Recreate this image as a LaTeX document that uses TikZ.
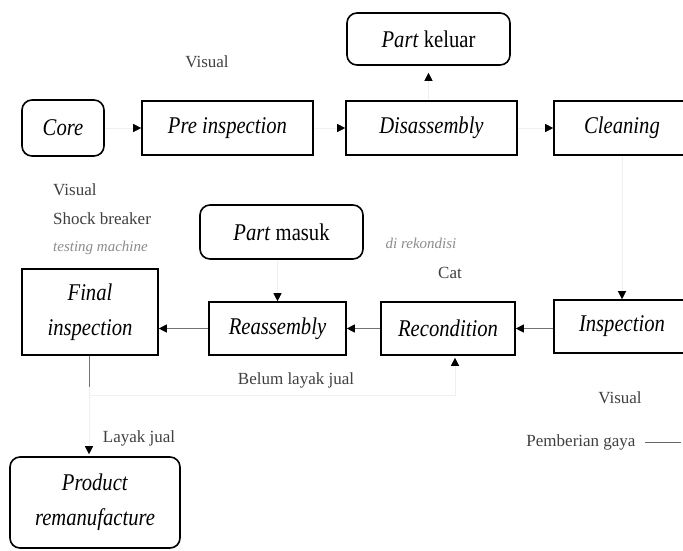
\documentclass[tikz,border=0pt]{standalone}
\usepackage{fontspec}
\setmainfont{Liberation Serif}
\newfontfamily\boxfont[FakeStretch=0.86]{Liberation Serif}
\usetikzlibrary{arrows.meta}
\begin{document}
\begin{tikzpicture}[x=1pt,y=-1pt]
\tikzset{
  box/.style={draw=black, line width=1.6pt, inner sep=0pt, align=center,
    font=\boxfont\fontsize{24}{35}\selectfont},
  rbox/.style={box, rounded corners=10pt},
  lab/.style={font=\fontsize{17}{20}\selectfont, text=black!75, inner sep=0pt},
  faintlab/.style={font=\fontsize{15}{18}\selectfont\itshape, text=black!45, inner sep=0pt},
  arr/.style={-{Triangle[length=8pt,width=8pt,color=black]}, line width=0.7pt, draw=black!55},
  farr/.style={-{Triangle[length=8pt,width=8pt,color=black]}, line width=0.6pt, draw=black!6},
  gline/.style={line width=0.7pt, draw=black!55}
}
\useasboundingbox[fill=white] (0,0) rectangle (683,550);

% top row
\node[rbox, minimum width=163pt, minimum height=52pt] (partk) at (428.5,39) {\textit{Part} keluar};
\node[rbox, minimum width=82pt, minimum height=56pt] (core) at (63,128) {\textit{Core}};
\node[box, minimum width=171pt, minimum height=54pt] (pre) at (227.5,128) {\textit{Pre inspection}};
\node[box, minimum width=171pt, minimum height=54pt] (dis) at (431.5,128) {\textit{Disassembly}};
\node[box, minimum width=136pt, minimum height=54pt] (clean) at (622,128) {\textit{Cleaning}};

% second row
\node[rbox, minimum width=163pt, minimum height=54pt] (partm) at (281.5,232) {\textit{Part} masuk};
\node[box, minimum width=136pt, minimum height=86pt] (final) at (90,312) {\textit{Final}\\\textit{inspection}};
\node[box, minimum width=137pt, minimum height=53pt] (reas) at (277.5,328.5) {\textit{Reassembly}};
\node[box, minimum width=134pt, minimum height=53pt] (recon) at (448,328.5) {\textit{Recondition}};
\node[box, minimum width=136pt, minimum height=53pt] (insp) at (622,326.5) {\textit{Inspection}};

% bottom
\node[rbox, minimum width=170pt, minimum height=91pt] (prod) at (95,502.5) {\textit{Product}\\\textit{remanufacture}};

% labels
\node[lab] (v1) at (207,62) {Visual};
\node[lab, anchor=west] (v2) at (53,190) {Visual};
\node[lab, anchor=west] (sb) at (53,219) {Shock breaker};
\node[faintlab, anchor=west] (tm) at (53,248) {testing machine};
\node[faintlab] (dr) at (421,243) {di rekondisi};
\node[lab] (cat) at (450,273) {Cat};
\node[lab] (bl) at (296,380) {Belum layak jual};
\node[lab] (v3) at (620,398) {Visual};
\node[lab] (lj) at (139,438) {Layak jual};
\node[lab] (pg) at (581,442) {Pemberian gaya};
\coordinate (pge) at (681,442);
\draw[black!60, line width=0.8pt] ([xshift=9pt]pg.east) -- (pge);

% connectors top row
\draw[farr] (core) -- (pre);
\draw[farr] (pre) -- (dis);
\draw[farr] (dis) -- (clean);
\draw[farr, shorten >=7pt] (partk.south |- dis.north) -- (partk.south);
\draw[farr] (clean.south) -- (insp.north);

% connectors second row
\draw[arr] (insp.west |- recon.east) -- (recon.east);
\draw[arr] (recon) -- (reas);
\draw[arr] (reas.west) -- (reas.west -| final.east);
\draw[farr] (reas.north |- partm.south) -- (reas.north);

% final inspection outputs
\coordinate (fb) at (89,387);
\coordinate (rb) at (455,395);
\draw[gline] (final.south -| fb) -- (fb);
\draw[farr, shorten >=2pt] (fb) -- (fb |- prod.north);
\draw[farr, shorten >=2pt] (fb) |- (rb) -- (rb |- recon.south);
\end{tikzpicture}
\end{document}
